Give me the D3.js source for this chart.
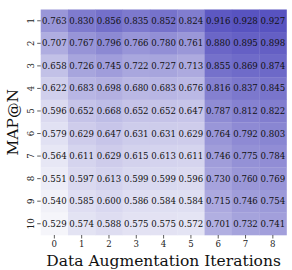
<!DOCTYPE html>
<html><head><meta charset="utf-8">
<script src="https://cdn.jsdelivr.net/npm/d3@7"></script>
<style>html,body{margin:0;padding:0;background:#fff;}svg{display:block;}</style>
</head><body><svg id="c" width="292" height="270"></svg>
<script>
const iterations = ["0","1","2","3","4","5","6","7","8"];
const nValues = ["1","2","3","4","5","6","7","8","9","10"];
const row1  = [0.763,0.830,0.856,0.835,0.852,0.824,0.916,0.928,0.927];
const row2  = [0.707,0.767,0.796,0.766,0.780,0.761,0.880,0.895,0.898];
const row3  = [0.658,0.726,0.745,0.722,0.727,0.713,0.855,0.869,0.874];
const row4  = [0.622,0.683,0.698,0.680,0.683,0.676,0.816,0.837,0.845];
const row5  = [0.596,0.652,0.668,0.652,0.652,0.647,0.787,0.812,0.822];
const row6  = [0.579,0.629,0.647,0.631,0.631,0.629,0.764,0.792,0.803];
const row7  = [0.564,0.611,0.629,0.615,0.613,0.611,0.746,0.775,0.784];
const row8  = [0.551,0.597,0.613,0.599,0.599,0.596,0.730,0.760,0.769];
const row9  = [0.540,0.585,0.600,0.586,0.584,0.584,0.715,0.746,0.754];
const row10 = [0.529,0.574,0.588,0.575,0.575,0.572,0.701,0.732,0.741];
const values = [row1,row2,row3,row4,row5,row6,row7,row8,row9,row10];

const svg = d3.select("#c");
const font = "DejaVu Serif";
const L = 40.7, R = 286.5, T = 9.5, B = 235;

const x = d3.scaleBand().domain(iterations).range([L, R]).padding(0);
const y = d3.scaleBand().domain(nValues).range([T, B]).padding(0);
const all = values.flat();
const color = d3.scaleLinear().domain([d3.min(all), d3.max(all)])
  .range(["#f5f5fa", "#5853c0"]).interpolate(d3.interpolateRgb);

const cells = [];
values.forEach((r, i) => r.forEach((v, j) => cells.push({n: nValues[i], it: iterations[j], v})));

svg.append("g").selectAll("rect").data(cells).join("rect")
  .attr("x", d => x(d.it)).attr("y", d => y(d.n))
  .attr("width", x.bandwidth() + 0.3).attr("height", y.bandwidth() + 0.3)
  .attr("fill", d => color(d.v));

svg.append("g").selectAll("text").data(cells).join("text")
  .attr("x", d => x(d.it) + x.bandwidth()/2)
  .attr("y", d => y(d.n) + y.bandwidth()/2)
  .attr("text-anchor", "middle").attr("dominant-baseline", "central")
  .attr("font-family", font).attr("font-size", 8.6).attr("fill", "#111")
  .text(d => d.v.toFixed(3));

// x axis
const xa = svg.append("g").attr("transform", `translate(0,${B})`)
  .call(d3.axisBottom(x).tickSize(3.5).tickPadding(2));
xa.select(".domain").remove();
xa.selectAll("text").attr("font-family", font).attr("font-size", 8.6).attr("fill", "#222");
xa.selectAll("line").attr("stroke", "#333").attr("stroke-width", 0.8);

// y axis
const ya = svg.append("g").attr("transform", `translate(${L},0)`)
  .call(d3.axisLeft(y).tickSize(3.5).tickPadding(2.5));
ya.select(".domain").remove();
ya.selectAll("line").attr("stroke", "#333").attr("stroke-width", 0.8);
ya.selectAll("text").attr("font-family", font).attr("font-size", 8.6).attr("fill", "#222")
  .attr("text-anchor", "middle").attr("dy", null).attr("dominant-baseline", "central")
  .attr("x", -9.5).attr("transform", "rotate(-90, -9.5, 0)");

svg.append("text").attr("x", 163.6).attr("y", 266)
  .attr("text-anchor", "middle").attr("font-family", font).attr("font-size", 15.5).attr("fill", "#111")
  .text("Data Augmentation Iterations");

svg.append("text").attr("transform", `translate(18,${(T+B)/2}) rotate(-90)`)
  .attr("text-anchor", "middle").attr("font-family", font).attr("font-size", 15.5).attr("fill", "#111")
  .text("MAP@N");
</script></body></html>
